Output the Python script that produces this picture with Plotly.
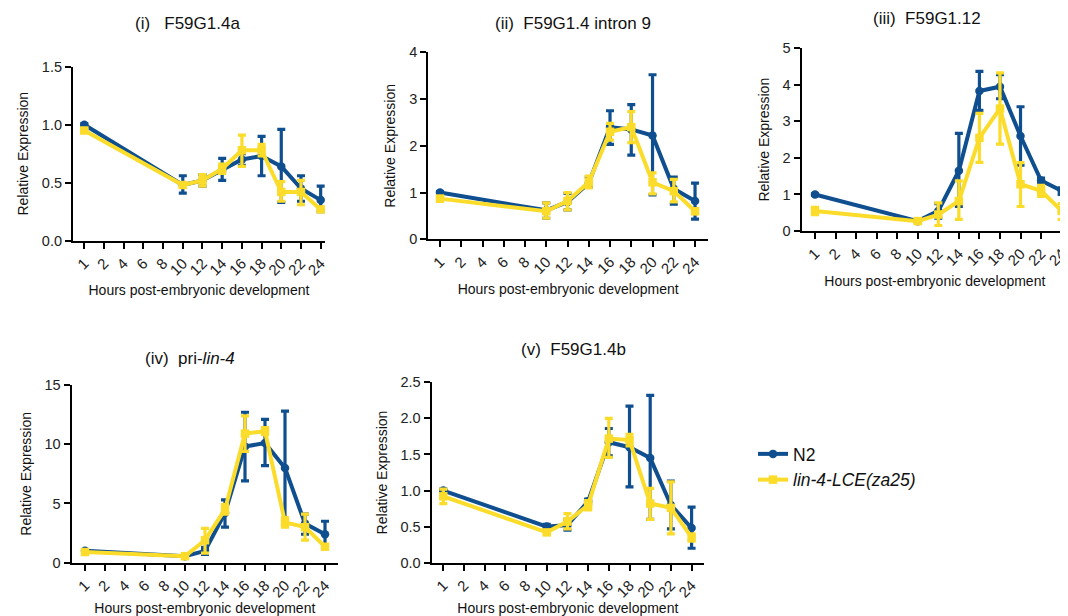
import plotly.graph_objects as go

# ---------------- data ----------------
categories = ["1", "2", "4", "6", "8", "10", "12", "14", "16", "18", "20", "22", "24"]
hours = ["1", "10", "12", "14", "16", "18", "20", "22", "24"]

titles = ["(i)   F59G1.4a", "(ii)  F59G1.4 intron 9", "(iii)  F59G1.12",
          "(iv)  pri-<i>lin-4</i>", "(v)  F59G1.4b"]

# Panel (i) F59G1.4a
n2_i = [1.00, 0.48, 0.52, 0.61, 0.70, 0.73, 0.64, 0.45, 0.35]
n2_i_hi = [1.01, 0.56, 0.57, 0.71, 0.75, 0.90, 0.96, 0.56, 0.47]
n2_i_lo = [0.99, 0.41, 0.47, 0.52, 0.65, 0.56, 0.33, 0.34, 0.25]
lce_i = [0.95, 0.48, 0.52, 0.62, 0.78, 0.78, 0.42, 0.42, 0.27]
lce_i_hi = [0.96, 0.50, 0.57, 0.66, 0.91, 0.83, 0.51, 0.52, 0.28]
lce_i_lo = [0.94, 0.46, 0.47, 0.58, 0.64, 0.73, 0.34, 0.31, 0.26]

# Panel (ii) F59G1.4 intron 9
n2_ii = [1.00, 0.62, 0.80, 1.20, 2.40, 2.35, 2.22, 1.08, 0.82]
n2_ii_hi = [1.02, 0.78, 0.98, 1.33, 2.75, 2.88, 3.52, 1.33, 1.20]
n2_ii_lo = [0.98, 0.45, 0.63, 1.12, 2.03, 1.80, 0.95, 0.75, 0.43]
lce_ii = [0.87, 0.60, 0.82, 1.22, 2.30, 2.40, 1.22, 1.03, 0.60]
lce_ii_hi = [0.92, 0.78, 1.00, 1.35, 2.48, 2.73, 1.42, 1.28, 0.65]
lce_ii_lo = [0.82, 0.45, 0.63, 1.10, 2.12, 2.07, 0.97, 0.80, 0.55]

# Panel (iii) F59G1.12
n2_iii = [1.00, 0.27, 0.55, 1.65, 3.83, 3.95, 2.60, 1.38, 1.10]
n2_iii_hi = [1.02, 0.29, 0.75, 2.67, 4.37, 4.28, 3.40, 1.45, 1.18]
n2_iii_lo = [0.98, 0.25, 0.35, 0.67, 3.30, 3.62, 1.80, 1.32, 1.00]
lce_iii = [0.55, 0.27, 0.45, 0.82, 2.55, 3.35, 1.28, 1.10, 0.55]
lce_iii_hi = [0.65, 0.29, 0.77, 1.37, 3.22, 4.33, 1.87, 1.25, 0.75]
lce_iii_lo = [0.45, 0.25, 0.15, 0.32, 1.88, 2.38, 0.67, 0.95, 0.32]

# Panel (iv) pri-lin-4
n2_iv = [1.00, 0.55, 1.00, 4.20, 9.80, 10.10, 8.00, 3.30, 2.40]
n2_iv_hi = [1.05, 0.60, 1.30, 5.30, 12.70, 12.10, 12.80, 4.10, 3.50]
n2_iv_lo = [0.95, 0.50, 0.70, 3.00, 6.90, 8.20, 3.10, 2.40, 1.30]
lce_iv = [0.90, 0.55, 1.90, 4.50, 10.90, 11.10, 3.40, 3.00, 1.35]
lce_iv_hi = [1.10, 0.62, 2.90, 4.90, 12.40, 11.40, 3.80, 4.10, 1.50]
lce_iv_lo = [0.70, 0.48, 0.80, 4.10, 9.40, 10.80, 3.00, 1.90, 1.20]

# Panel (v) F59G1.4b
n2_v = [1.00, 0.50, 0.52, 0.85, 1.67, 1.60, 1.45, 0.80, 0.48]
n2_v_hi = [1.02, 0.53, 0.60, 0.88, 1.86, 2.17, 2.32, 1.13, 0.77]
n2_v_lo = [0.98, 0.47, 0.45, 0.82, 1.48, 1.05, 0.60, 0.47, 0.20]
lce_v = [0.92, 0.42, 0.57, 0.80, 1.72, 1.70, 0.82, 0.76, 0.35]
lce_v_hi = [1.02, 0.44, 0.68, 0.86, 2.00, 1.78, 1.03, 1.12, 0.40]
lce_v_lo = [0.82, 0.40, 0.47, 0.73, 1.46, 1.62, 0.60, 0.40, 0.30]

y_ranges = [[0, 1.5], [0, 4], [0, 5], [0, 15], [0, 2.5]]
y_dticks = [0.5, 1, 1, 5, 0.5]
y_formats = [".1f", "d", "d", ".0f", ".1f"]

panels = [
    (n2_i, n2_i_hi, n2_i_lo, lce_i, lce_i_hi, lce_i_lo),
    (n2_ii, n2_ii_hi, n2_ii_lo, lce_ii, lce_ii_hi, lce_ii_lo),
    (n2_iii, n2_iii_hi, n2_iii_lo, lce_iii, lce_iii_hi, lce_iii_lo),
    (n2_iv, n2_iv_hi, n2_iv_lo, lce_iv, lce_iv_hi, lce_iv_lo),
    (n2_v, n2_v_hi, n2_v_lo, lce_v, lce_v_hi, lce_v_lo),
]

# ---------------- layout geometry (page pixels) ----------------
OFF = 8  # default body margin of the html page
W, H = 1068 - OFF, 616 - OFF
# (x_left, x_right, y_bottom, y_top, cat_left_offset, cat_right_end)
geom = [
    (73, 325, 240.7, 66.7, -0.574, 12.22),
    (428.3, 708, 239.3, 52.3, -0.55, 12.61),
    (801.7, 1068, 231, 48.3, -0.647, 12.31),
    (71.7, 338, 562.7, 385, -0.665, 12.65),
    (431.7, 704, 562.7, 382.3, -0.56, 12.6),
]
title_pos = [(187, 24), (573, 23), (927, 18), (190, 358), (573, 349)]


def fx(px):
    return min(max((px - OFF) / W, 0.0), 1.0)


def fy(py):
    return min(max(1 - (py - OFF) / H, 0.0), 1.0)


BLUE = "#0f4f8f"
YELLOW = "#fcdc2a"
FONT = "Liberation Sans, Arial, sans-serif"

fig = go.Figure()

for k, (p, g) in enumerate(zip(panels, geom)):
    n2, n2hi, n2lo, lce, lcehi, lcelo = p
    xa = "x" if k == 0 else f"x{k+1}"
    ya = "y" if k == 0 else f"y{k+1}"
    for vals, hi, lo, color, name, sym in [
        (n2, n2hi, n2lo, BLUE, "N2", "circle"),
        (lce, lcehi, lcelo, YELLOW, "<i>lin-4-LCE(za25)</i>", "square"),
    ]:
        fig.add_trace(go.Scatter(
            x=hours, y=vals, xaxis=xa, yaxis=ya,
            mode="lines+markers", name=name, showlegend=(k == 0),
            line=dict(color=color, width=4),
            marker=dict(color=color, size=8.5, symbol=sym),
            error_y=dict(type="data", symmetric=False,
                         array=[h - v for h, v in zip(hi, vals)],
                         arrayminus=[v - l for v, l in zip(vals, lo)],
                         color=color, thickness=3.2, width=4),
            cliponaxis=False,
        ))

layout = dict(
    width=W, height=H,
    margin=dict(l=0, r=0, t=0, b=0, autoexpand=False),
    paper_bgcolor="white", plot_bgcolor="white",
    font=dict(family=FONT, color="#222222", size=14),
    showlegend=True,
    legend=dict(x=fx(753), y=fy(436), xanchor="left", yanchor="top",
                font=dict(size=17.5, family=FONT, color="#111111"),
                itemwidth=30, tracegroupgap=4, bgcolor="rgba(0,0,0,0)"),
)

annotations = []
for k, g in enumerate(geom):
    xl, xr, yb, yt, c0, c1 = g
    xkey = "xaxis" if k == 0 else f"xaxis{k+1}"
    ykey = "yaxis" if k == 0 else f"yaxis{k+1}"
    ya_anchor = "y" if k == 0 else f"y{k+1}"
    xa_anchor = "x" if k == 0 else f"x{k+1}"
    layout[xkey] = dict(
        domain=[fx(xl), fx(xr)], anchor=ya_anchor, automargin=False,
        type="category", categoryorder="array", categoryarray=categories,
        range=[c0, c1], showgrid=False, zeroline=False,
        showline=True, linecolor="black", linewidth=2.2,
        ticks="outside", ticklen=6, tickwidth=2, tickcolor="black",
        tickangle=-45, tickfont=dict(size=15, family=FONT, color="#222222"),
        title=dict(text="Hours post-embryonic development",
                   font=dict(size=14, family=FONT, color="#111111"), standoff=8),
        fixedrange=True,
    )
    layout[ykey] = dict(
        domain=[fy(yb), fy(yt)], anchor=xa_anchor, automargin=False,
        range=y_ranges[k], dtick=y_dticks[k], tick0=0,
        tickformat=y_formats[k], showgrid=False, zeroline=False,
        showline=True, linecolor="black", linewidth=2.2,
        ticks="outside", ticklen=6, tickwidth=2, tickcolor="black",
        tickfont=dict(size=14.5, family=FONT, color="#222222"),
        title=dict(text="Relative Expression",
                   font=dict(size=14, family=FONT, color="#111111"), standoff=10),
        fixedrange=True,
    )
    tx, ty = title_pos[k]
    annotations.append(dict(
        text=titles[k], x=fx(tx), y=fy(ty), xref="paper", yref="paper",
        xanchor="center", yanchor="middle", showarrow=False,
        font=dict(size=17, family=FONT, color="#111111"),
    ))

layout["annotations"] = annotations
fig.update_layout(**layout)

fig.write_html("out.html")
